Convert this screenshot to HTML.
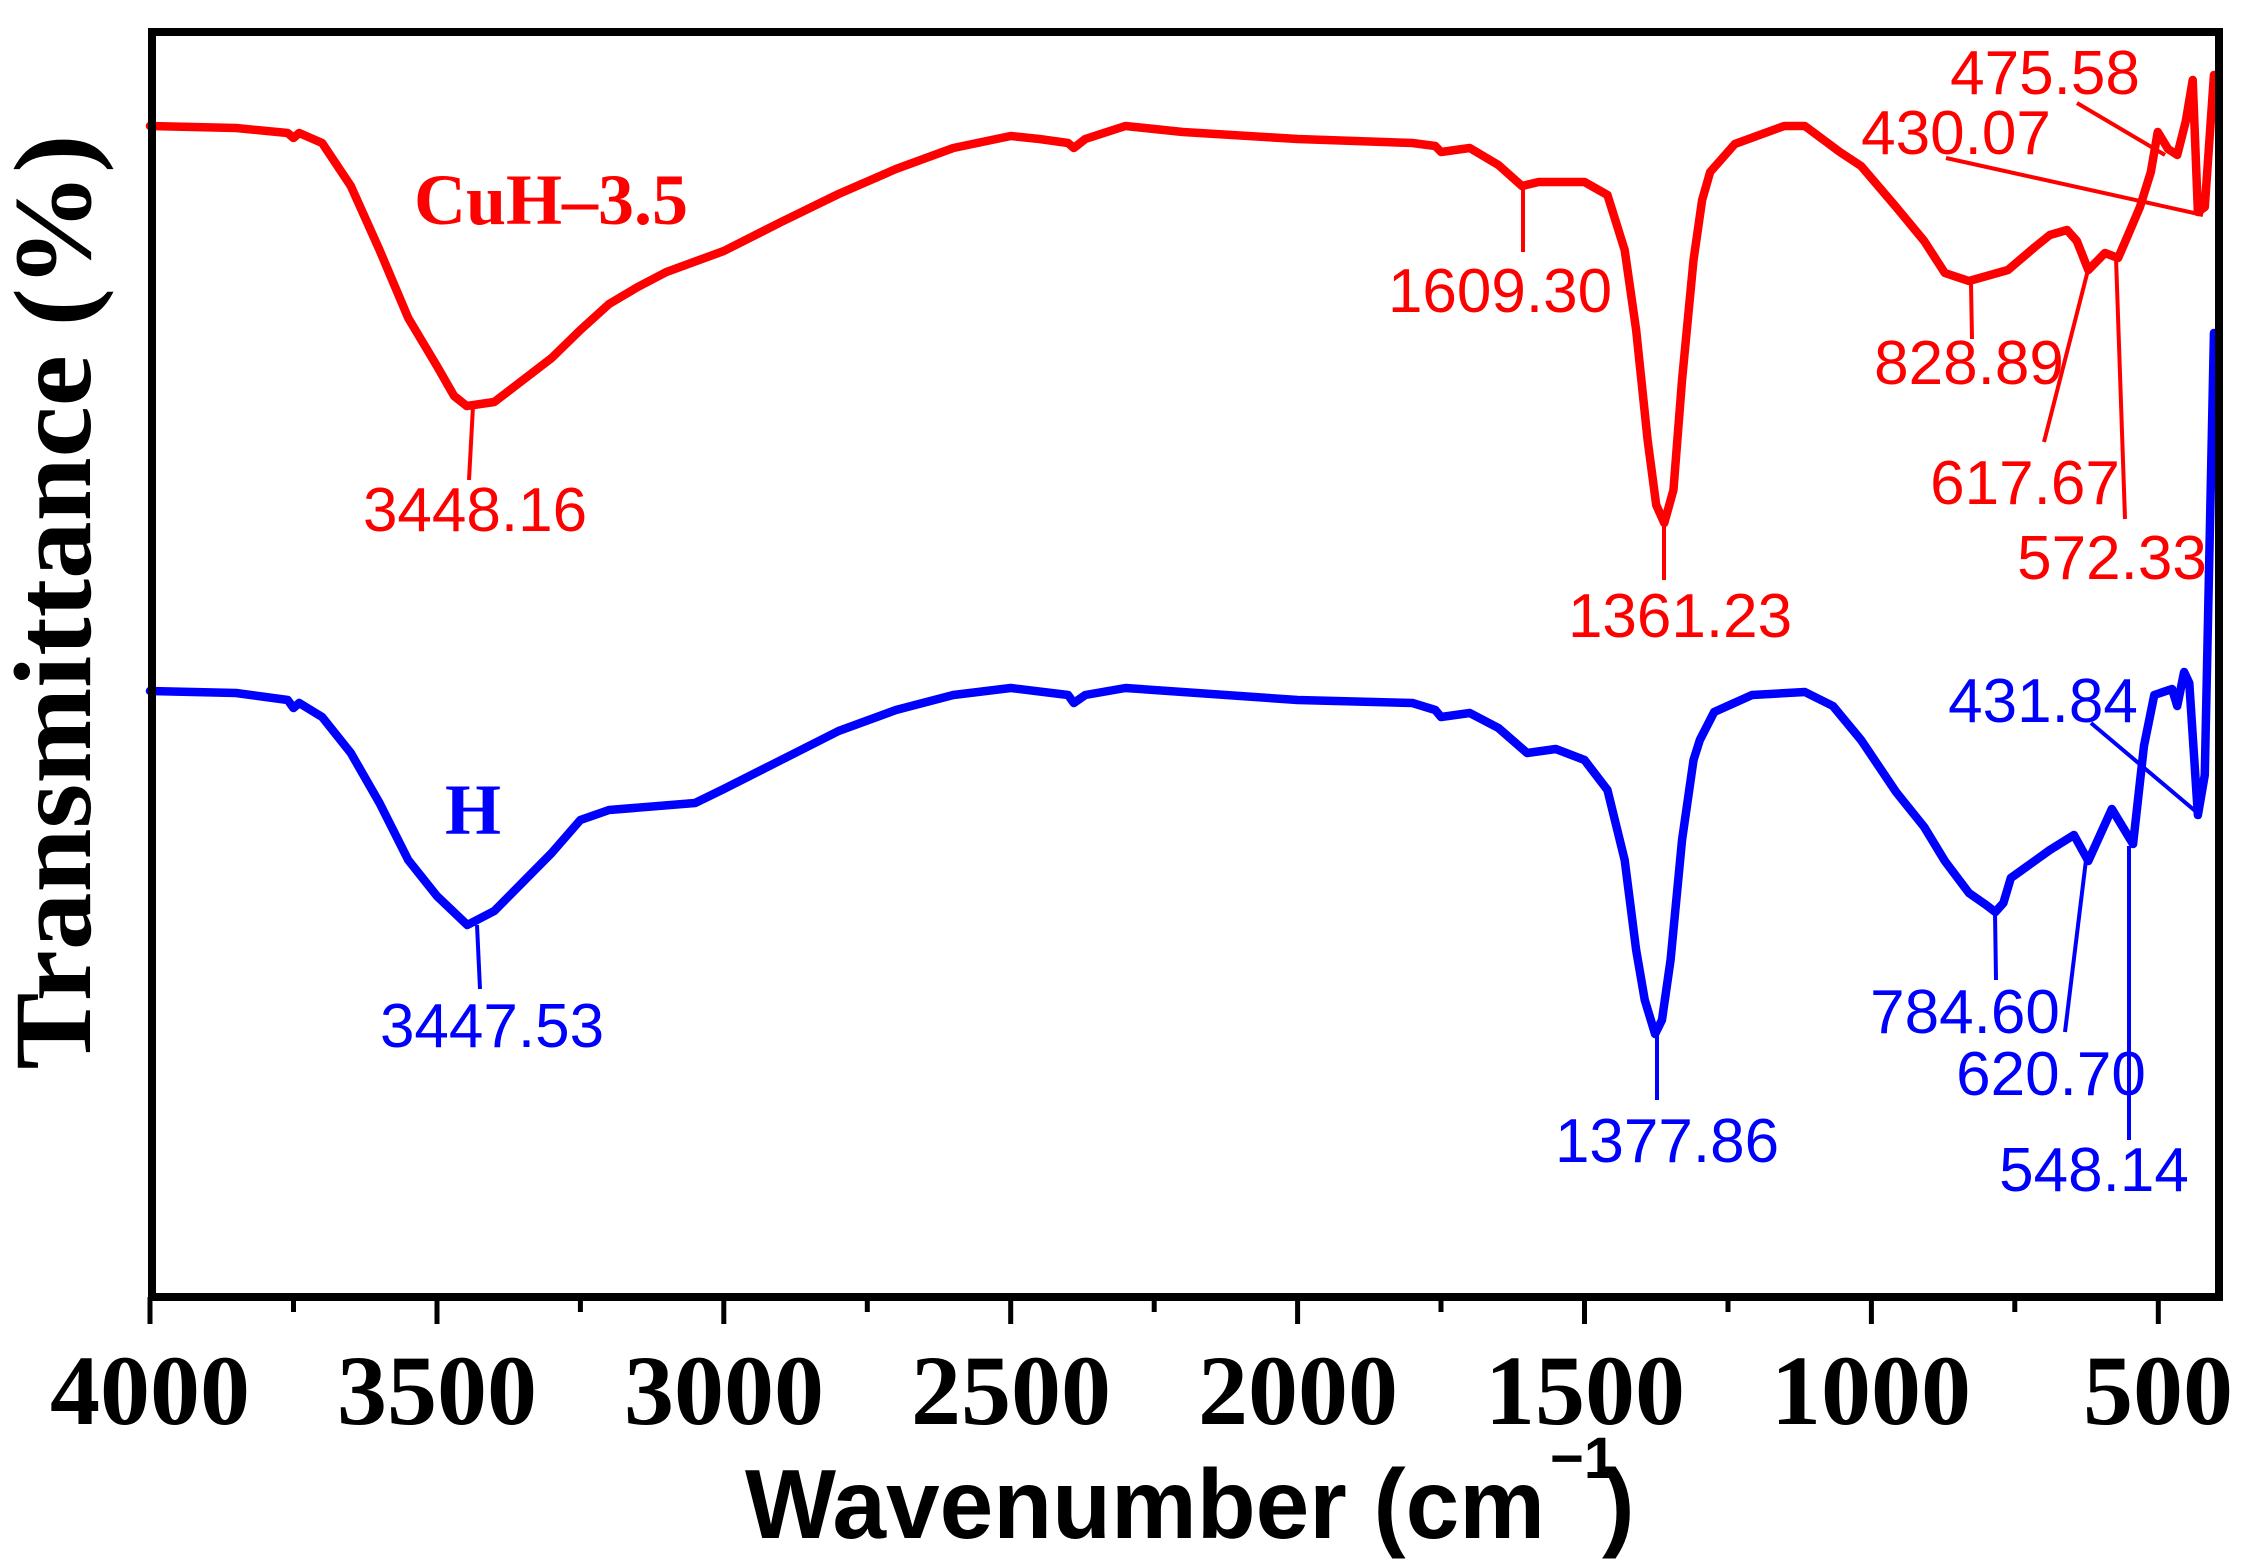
<!DOCTYPE html>
<html><head><meta charset="utf-8"><style>
html,body{margin:0;padding:0;background:#fff;}
svg{display:block;}
.ann{font-family:"Liberation Sans",Arial,sans-serif;font-size:62px;}
</style></head><body>
<svg width="2248" height="1560" viewBox="0 0 2248 1560" xmlns="http://www.w3.org/2000/svg">
<rect width="2248" height="1560" fill="#fff"/>
<g transform="translate(2445.2,0) scale(-0.5738,1)" fill="none" stroke-linejoin="round" stroke-linecap="round">
<polyline vector-effect="non-scaling-stroke" stroke="#ff0000" stroke-width="8.5" points="4000,126 3850,128 3760,133 3750,138 3740,133 3700,143 3650,186 3600,250 3550,318 3500,366 3470,396 3448,406 3400,402 3350,380 3300,358 3250,330 3200,304 3150,287 3100,272 3000,251 2900,222 2800,194 2700,169 2600,148 2500,136 2450,139 2400,143 2390,148 2370,139 2300,126 2200,132 2000,139 1800,143 1760,146 1750,152 1700,148 1650,165 1609,186 1580,182 1500,182 1460,195 1430,250 1410,330 1390,440 1375,505 1361,523 1345,490 1330,380 1310,260 1295,200 1281,172 1238,144 1152,126 1116,126 1055,152 1018,166 957,207 908,241 872,273 830,281 762,270 715,247 689,235 659,230 642,241 622,270 593,253 570,258 549,230 532,207 513,172 501,132 483,149 467,155 452,121 440,80 431,212 419,207 403,75"/>
<polyline vector-effect="non-scaling-stroke" stroke="#0000ff" stroke-width="8.5" points="4000,691 3850,693 3760,700 3750,708 3740,703 3700,717 3650,753 3600,803 3550,860 3500,896 3447,925 3400,911 3350,882 3300,853 3250,820 3200,810 3050,803 3000,789 2900,760 2800,731 2700,710 2600,695 2500,688 2400,695 2390,703 2370,695 2300,688 2000,700 1800,703 1760,710 1750,717 1700,713 1650,728 1600,753 1550,749 1500,760 1460,790 1430,860 1410,950 1395,1000 1377,1034 1365,1020 1350,960 1330,840 1310,760 1299,740 1274,712 1208,695 1116,692 1067,706 1018,740 957,792 908,827 872,861 830,893 800,905 784,912 770,903 757,878 689,850 647,835 622,861 581,809 544,844 525,746 507,695 476,689 467,706 455,672 446,683 431,815 419,775 403,333"/>
</g>
<g stroke="#ff0000" stroke-width="4" fill="none">
<line x1="473" y1="406" x2="469" y2="480"/>
<line x1="1523" y1="188" x2="1523" y2="252"/>
<line x1="1664" y1="523" x2="1664" y2="580"/>
<line x1="1971" y1="284" x2="1972" y2="339"/>
<line x1="2088" y1="270" x2="2044" y2="442"/>
<line x1="2116" y1="258" x2="2125" y2="519"/>
<line x1="2077" y1="103" x2="2165" y2="155"/>
<line x1="1946" y1="158" x2="2203" y2="215"/>
</g>
<g class="ann" fill="#ff0000" text-anchor="middle">
<text x="475" y="531">3448.16</text>
<text x="1500" y="312">1609.30</text>
<text x="1680" y="637">1361.23</text>
<text x="1969" y="384">828.89</text>
<text x="2025" y="504">617.67</text>
<text x="2112" y="579">572.33</text>
<text x="2045" y="94">475.58</text>
<text x="1956" y="154">430.07</text>
</g>
<text x="551" y="224" fill="#ff0000" font-family="'Liberation Serif',serif" font-weight="bold" font-size="72" text-anchor="middle">CuH–3.5</text>
<g stroke="#0000ff" stroke-width="4" fill="none">
<line x1="477" y1="925" x2="480" y2="989"/>
<line x1="1657" y1="1034" x2="1657" y2="1100"/>
<line x1="1995" y1="912" x2="1996" y2="980"/>
<line x1="2086" y1="860" x2="2065" y2="1032"/>
<line x1="2129" y1="846" x2="2129" y2="1140"/>
<line x1="2091" y1="723" x2="2200" y2="815"/>
</g>
<g class="ann" fill="#0000ff" text-anchor="middle">
<text x="492" y="1047">3447.53</text>
<text x="1667" y="1162">1377.86</text>
<text x="1965" y="1033">784.60</text>
<text x="2051" y="1095">620.70</text>
<text x="2094" y="1191">548.14</text>
<text x="2043" y="722">431.84</text>
</g>
<text x="473" y="834" fill="#0000ff" font-family="'Liberation Serif',serif" font-weight="bold" font-size="72" text-anchor="middle">H</text>
<rect x="152" y="32" width="2067" height="1265" fill="none" stroke="#000" stroke-width="8"/>
<g stroke="#000" stroke-width="5">
<line x1="150" y1="1297" x2="150" y2="1324"/>
<line x1="293.5" y1="1297" x2="293.5" y2="1312"/>
<line x1="437" y1="1297" x2="437" y2="1324"/>
<line x1="580.4" y1="1297" x2="580.4" y2="1312"/>
<line x1="723.8" y1="1297" x2="723.8" y2="1324"/>
<line x1="867.3" y1="1297" x2="867.3" y2="1312"/>
<line x1="1010.7" y1="1297" x2="1010.7" y2="1324"/>
<line x1="1154.2" y1="1297" x2="1154.2" y2="1312"/>
<line x1="1297.6" y1="1297" x2="1297.6" y2="1324"/>
<line x1="1441" y1="1297" x2="1441" y2="1312"/>
<line x1="1584.5" y1="1297" x2="1584.5" y2="1324"/>
<line x1="1728" y1="1297" x2="1728" y2="1312"/>
<line x1="1871.4" y1="1297" x2="1871.4" y2="1324"/>
<line x1="2014.8" y1="1297" x2="2014.8" y2="1312"/>
<line x1="2158.3" y1="1297" x2="2158.3" y2="1324"/>
</g>
<g font-family="'Liberation Serif',serif" font-weight="bold" font-size="100" text-anchor="middle" fill="#000">
<text x="150" y="1424">4000</text>
<text x="437" y="1424">3500</text>
<text x="724" y="1424">3000</text>
<text x="1011" y="1424">2500</text>
<text x="1298" y="1424">2000</text>
<text x="1585" y="1424">1500</text>
<text x="1871" y="1424">1000</text>
<text x="2158" y="1424">500</text>
</g>
<text x="745" y="1538" font-family="'Liberation Sans',Arial,sans-serif" font-weight="bold" font-size="98" fill="#000" textLength="800" lengthAdjust="spacingAndGlyphs">Wavenumber (cm</text>
<text x="1550" y="1478" font-family="'Liberation Sans',Arial,sans-serif" font-weight="bold" font-size="58" fill="#000">−1</text>
<text x="1602" y="1538" font-family="'Liberation Sans',Arial,sans-serif" font-weight="bold" font-size="98" fill="#000">)</text>
<text transform="translate(90,602) rotate(-90)" text-anchor="middle" font-family="'Liberation Serif',serif" font-weight="bold" font-size="110" fill="#000" textLength="935" lengthAdjust="spacingAndGlyphs">Transmittance (%)</text>
</svg>
</body></html>
